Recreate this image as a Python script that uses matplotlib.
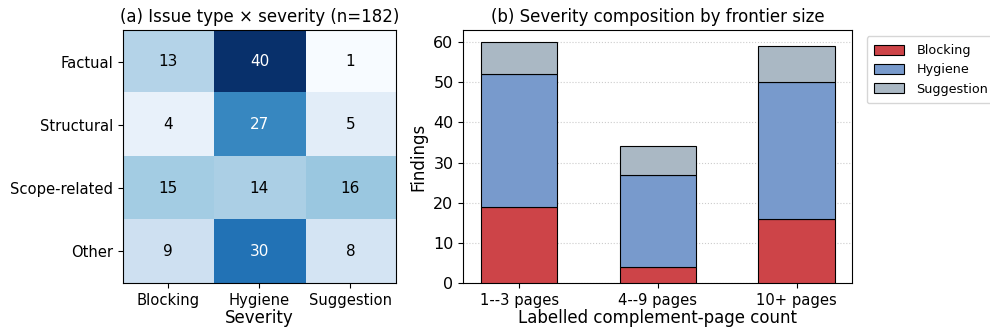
import numpy as np
import matplotlib
matplotlib.use("Agg")
import matplotlib.pyplot as plt

issue_types = ["Factual", "Structural", "Scope-related", "Other"]
severities = ["Blocking", "Hygiene", "Suggestion"]
matrix = [[13, 40, 1],
          [4, 27, 5],
          [15, 14, 16],
          [9, 30, 8]]

size_bins = ["1--3 pages", "4--9 pages", "10+ pages"]
blocking = [19, 4, 16]
hygiene = [33, 23, 34]
suggestion = [8, 7, 9]

colors = {"Blocking": "#cd4448", "Hygiene": "#789acc", "Suggestion": "#aab8c4"}

plt.rcParams['font.family'] = ['DejaVu Sans']
fig = plt.figure(figsize=(9.9, 3.33), dpi=100)
ax1 = fig.add_axes([0.124, 0.150, 0.276, 0.760])
ax2 = fig.add_axes([0.468, 0.150, 0.393, 0.760])

M = np.array(matrix)
ax1.imshow(M, cmap="Blues", aspect="auto", vmin=M.min(), vmax=M.max())
for i in range(M.shape[0]):
    for j in range(M.shape[1]):
        v = M[i, j]
        ax1.text(j, i, str(v), ha="center", va="center", fontsize=11,
                 color="white" if v > M.max() * 0.6 else "black")
ax1.set_xticks(range(len(severities)))
ax1.set_xticklabels(severities, fontsize=10.6)
ax1.set_yticks(range(len(issue_types)))
ax1.set_yticklabels(issue_types, fontsize=10.6)
ax1.set_xlabel("Severity", fontsize=12, labelpad=1)
ax1.set_title("(a) Issue type \u00d7 severity (n=182)", fontsize=12)

x = np.arange(len(size_bins))
w = 0.55
b = np.array(blocking)
h = np.array(hygiene)
s = np.array(suggestion)
ax2.bar(x, b, w, color=colors["Blocking"], edgecolor="black", linewidth=0.8, label="Blocking", zorder=3)
ax2.bar(x, h, w, bottom=b, color=colors["Hygiene"], edgecolor="black", linewidth=0.8, label="Hygiene", zorder=3)
ax2.bar(x, s, w, bottom=b + h, color=colors["Suggestion"], edgecolor="black", linewidth=0.8, label="Suggestion", zorder=3)
ax2.set_xticks(x)
ax2.set_xticklabels(size_bins, fontsize=10.6)
ax2.set_ylabel("Findings", fontsize=12)
ax2.set_xlabel("Labelled complement-page count", fontsize=12, labelpad=1)
ax2.set_title("(b) Severity composition by frontier size", fontsize=12)
ax2.tick_params(axis="y", labelsize=11.5)
ax2.set_ylim(0, 63)
ax2.yaxis.grid(True, linestyle=":", color="#cccccc", linewidth=0.8, zorder=0)
ax2.set_axisbelow(True)
ax2.legend(loc="upper left", bbox_to_anchor=(1.02, 1.0), fontsize=9.2, frameon=True,
           handlelength=2.3, handleheight=0.85, handletextpad=1.0, borderpad=0.6)

fig.savefig("out.png", dpi=100)
